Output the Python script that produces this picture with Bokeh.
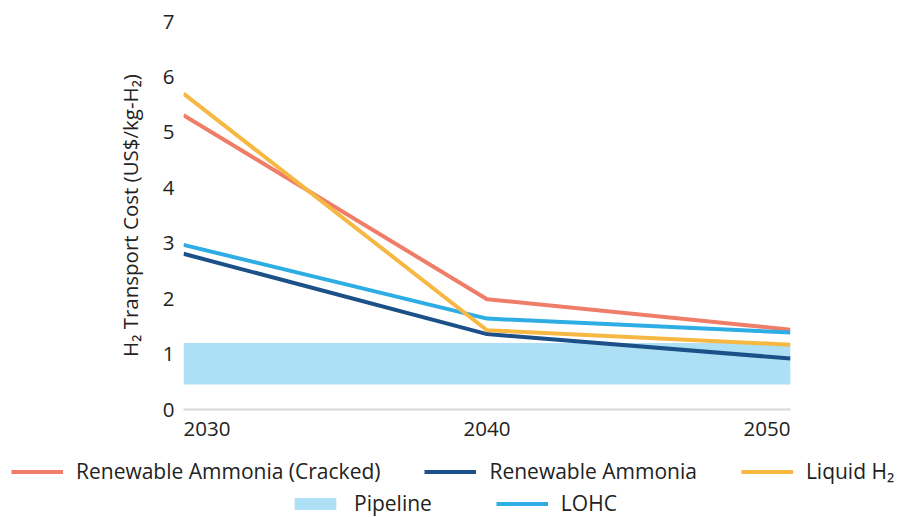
from bokeh.plotting import figure
from bokeh.layouts import column
from bokeh.models import Range1d, Legend, LegendItem, FixedTicker
from bokeh.embed import file_html
from bokeh.resources import INLINE

# ---- data ----
years = [2030, 2040, 2050]
cracked = [5.31, 1.99, 1.44]
ammonia = [2.81, 1.36, 0.92]
liquid_h2 = [5.70, 1.43, 1.17]
lohc = [2.97, 1.64, 1.39]
pipeline_low = [0.45, 0.45, 0.45]
pipeline_high = [1.20, 1.20, 1.20]
y_ticks = [0, 1, 2, 3, 4, 5, 6, 7]
x_tick_labels = ["2030", "2040", "2050"]

FONT = "Open Sans"
TXT = "#222222"
FRAME_W = 607
FRAME_H = 388
C_CR, C_AM, C_LH, C_LOHC, C_PIPE = "#ef7d67", "#1b5188", "#f6b843", "#2dade4", "#ade0f5"

p = figure(frame_width=FRAME_W, frame_height=FRAME_H, output_backend="svg", toolbar_location=None,
           x_range=Range1d(years[0], years[-1]), y_range=Range1d(0, 7),
           min_border_left=183, min_border_right=108, min_border_top=21,
           min_border_bottom=38)
p.frame_align = False
p.outline_line_color = None
p.grid.visible = False
p.background_fill_color = "white"
p.border_fill_color = "white"

# y axis
yax = p.yaxis[0]
yax.ticker = FixedTicker(ticks=y_ticks)
yax.axis_line_color = None
yax.major_tick_line_color = None
yax.minor_tick_line_color = None
yax.major_tick_out = 0
yax.major_tick_in = 0
yax.major_label_standoff = 9
yax.major_label_text_font = FONT
yax.major_label_text_font_size = "20.5px"
yax.major_label_text_color = TXT
yax.axis_label = "H\u2082 Transport Cost (US$/kg-H\u2082)"
yax.axis_label_text_font = FONT
yax.axis_label_text_font_size = "20.5px"
yax.axis_label_text_font_style = "normal"
yax.axis_label_text_color = TXT
yax.axis_label_standoff = 16

# x axis: first label flush left, last flush right (as in the reference)
px_per_year = FRAME_W / (years[-1] - years[0])
half_label = 23.5 / px_per_year
tick_pos = [round(years[0] + half_label, 3), years[1], round(years[-1] - half_label, 3)]
xax = p.xaxis[0]
xax.ticker = FixedTicker(ticks=tick_pos)
xax.major_label_overrides = {t: lab for t, lab in zip(tick_pos, x_tick_labels)}
xax.axis_line_color = "#d9d9d9"
xax.axis_line_width = 2
xax.major_tick_line_color = None
xax.minor_tick_line_color = None
xax.major_tick_out = 0
xax.major_tick_in = 0
xax.major_label_standoff = 12
xax.major_label_text_font = FONT
xax.major_label_text_font_size = "20.5px"
xax.major_label_text_color = TXT

# glyphs
p.varea(x=years, y1=pipeline_low, y2=pipeline_high, fill_color=C_PIPE)
p.line(years, cracked, line_color=C_CR, line_width=4)
p.line(years, ammonia, line_color=C_AM, line_width=4)
p.line(years, lohc, line_color=C_LOHC, line_width=4)
p.line(years, liquid_h2, line_color=C_LH, line_width=4)

# ---- legend strip (separate figure so both rows can be centred independently) ----
LEG_H = 70
q = figure(width=898, height=LEG_H, output_backend="svg", toolbar_location=None,
           x_range=Range1d(0, 898), y_range=Range1d(0, LEG_H),
           min_border_left=0, min_border_right=0, min_border_top=0, min_border_bottom=0)
q.frame_align = False
q.axis.visible = False
q.grid.visible = False
q.outline_line_color = None
q.background_fill_color = "white"
q.border_fill_color = "white"

# same series drawn off-view in the strip; they only provide the legend swatches
k_pipe = q.varea(x=years, y1=pipeline_low, y2=pipeline_high, fill_color=C_PIPE)
k_cr = q.line(years, cracked, line_color=C_CR, line_width=4)
k_am = q.line(years, ammonia, line_color=C_AM, line_width=4)
k_lohc = q.line(years, lohc, line_color=C_LOHC, line_width=4)
k_lh = q.line(years, liquid_h2, line_color=C_LH, line_width=4)

def style(lg, spacing):
    lg.orientation = "horizontal"
    lg.border_line_color = None
    lg.background_fill_alpha = 0
    lg.padding = 0
    lg.margin = 0
    lg.spacing = spacing
    lg.label_standoff = 13
    lg.glyph_width = 52
    lg.glyph_height = 15
    lg.label_height = 24
    lg.label_text_font = FONT
    lg.label_text_font_size = "21px"
    lg.label_text_color = TXT
    lg.label_text_baseline = "middle"

leg1 = Legend(items=[LegendItem(label="Renewable Ammonia (Cracked)", renderers=[k_cr]),
                     LegendItem(label="Renewable Ammonia", renderers=[k_am]),
                     LegendItem(label="Liquid H\u2082", renderers=[k_lh])])
style(leg1, 44)
leg1.location = (11, 32)
leg2 = Legend(items=[LegendItem(label="Pipeline", renderers=[k_pipe]),
                     LegendItem(label="LOHC", renderers=[k_lohc])])
style(leg2, 64)
leg2.location = (289, 0)
q.add_layout(leg1, "center")
q.add_layout(leg2, "center")

layout = column(p, q, spacing=0)
open("out.html", "w").write(file_html(layout, INLINE))
